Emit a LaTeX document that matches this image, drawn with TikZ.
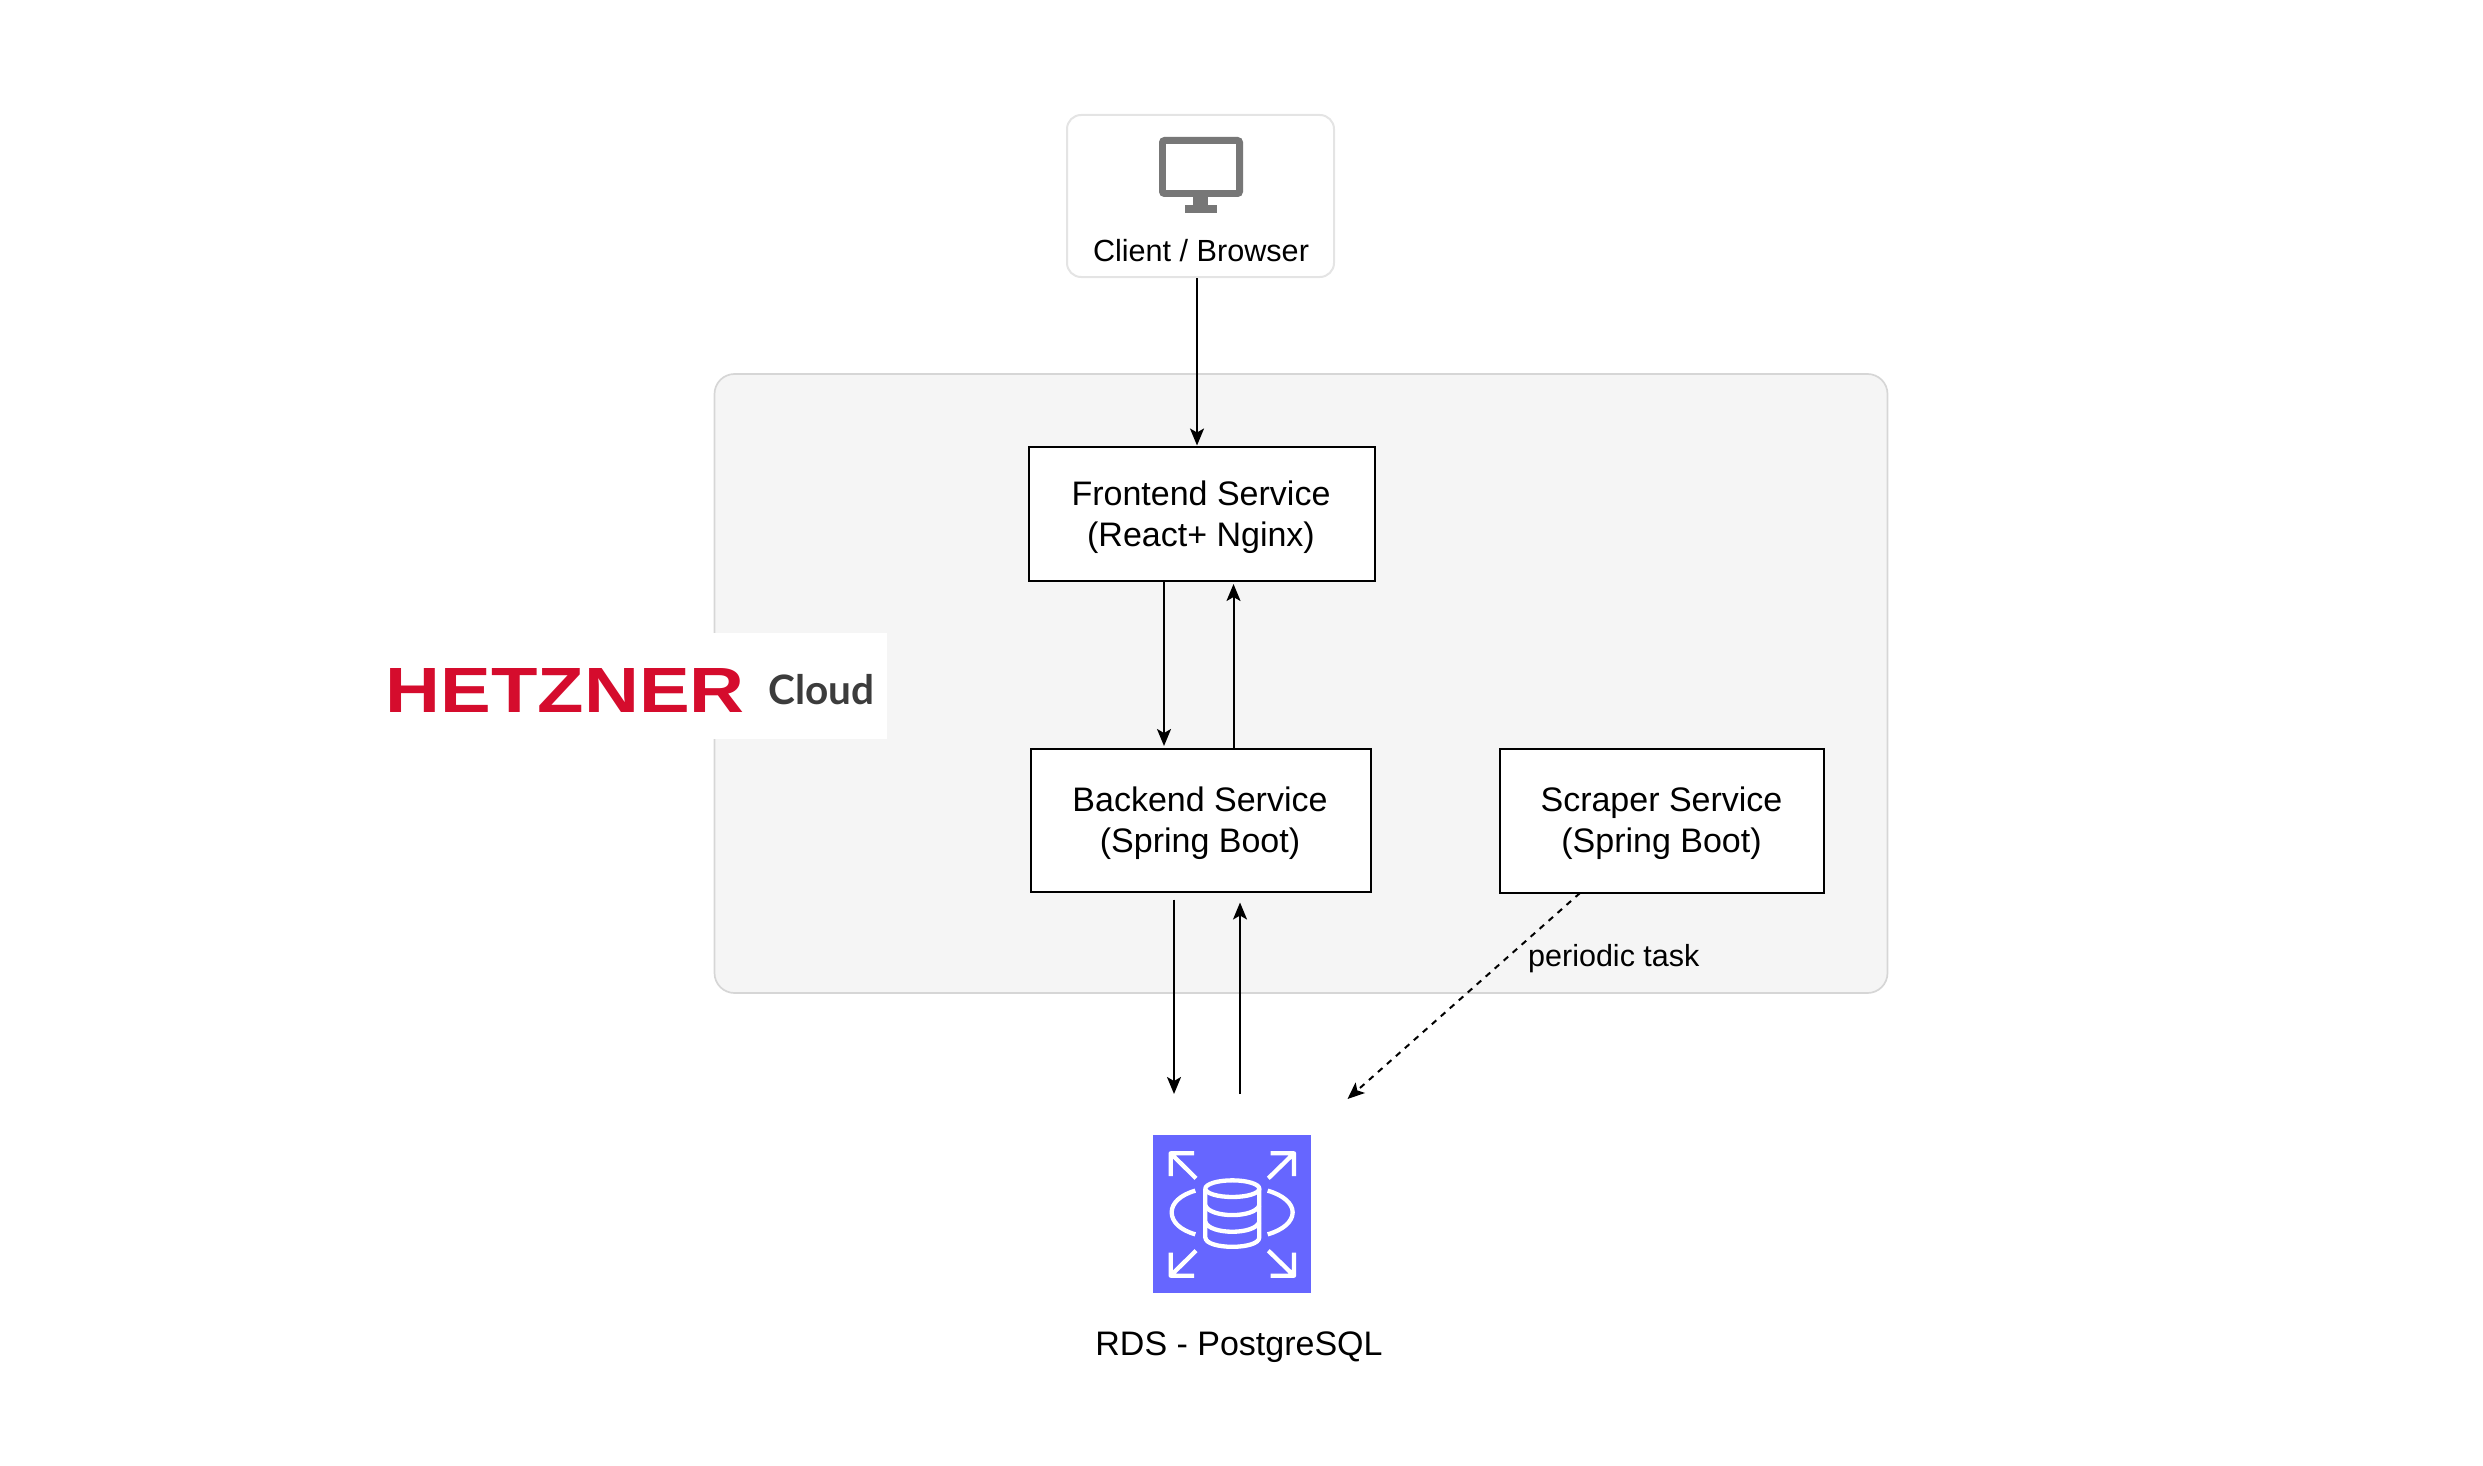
\documentclass[tikz,border=0pt]{standalone}
\usepackage{fontspec}
\setmainfont{Liberation Sans}
\newfontfamily\cloudfont{Lato}
\usetikzlibrary{arrows.meta}
\definecolor{hzred}{HTML}{D50C2D}
\definecolor{cloudgrey}{HTML}{3C3C3C}
\definecolor{panelfill}{HTML}{F5F5F5}
\definecolor{panelline}{HTML}{D6D6D6}
\definecolor{clientline}{HTML}{E4E4E4}
\definecolor{monitorgrey}{HTML}{777777}
\definecolor{rdsblue}{HTML}{6666FF}
\tikzset{
  service/.style={draw=black,line width=2pt,fill=white,inner sep=0pt},
  servicetext/.style={inner sep=0pt,align=center,font=\fontsize{34}{41}\selectfont},
  link/.style={draw=black,line width=2pt,-{Stealth[length=17pt,width=14pt,inset=4pt]}},
  dashlink/.style={link,dash pattern=on 6pt off 6pt},
  caption/.style={inner sep=0pt,anchor=base},
  icon/.style={white,line width=4.3pt,line cap=butt,line join=round},
}
\begin{document}
\begin{tikzpicture}[x=1pt,y=-1pt]
\useasboundingbox (0,0) rectangle (2483,1466);
% panel
\node[draw=panelline,line width=1.7pt,fill=panelfill,rounded corners=20pt,inner sep=0pt,
  minimum width=1173pt,minimum height=619pt] (panel) at (1301,683.5) {};
% logo background
\node[fill=white,inner sep=0pt,minimum width=191.5pt,minimum height=106pt] (logobg) at (790.75,685.7) {};
\node[inner sep=0pt,anchor=north west,text=hzred] (hetzner) at (385.5,668)
  {\resizebox{359pt}{44pt}{\bfseries HETZNER}};
\node[inner sep=0pt,anchor=base west,text=cloudgrey] (cloud) at (768.5,704)
  {\resizebox{106pt}{!}{\cloudfont\bfseries Cloud}};
% client
\node[draw=clientline,line width=2pt,fill=white,rounded corners=14pt,inner sep=0pt,
  minimum width=267pt,minimum height=162pt] (client) at (1200.5,196) {};
\fill[monitorgrey,rounded corners=5pt] (1159,137) rectangle (1243,197);
\fill[white] (1166,144) rectangle (1236,190);
\fill[monitorgrey] (1193,197) rectangle (1208,206);
\fill[monitorgrey] (1185,205) rectangle (1217,213);
\node[caption,font=\fontsize{30.6}{37}\selectfont] (clientlabel) at (1201,261) {Client / Browser};
% services
\node[service,minimum width=345.5pt,minimum height=134.5pt] (front) at (1201.75,513.75) {};
\node[servicetext] (frontlabel) at (1201,517) {Frontend Service\\(React+ Nginx)};
\node[service,minimum width=340pt,minimum height=142.5pt] (back) at (1201,820.25) {};
\node[servicetext] (backlabel) at (1200,823) {Backend Service\\(Spring Boot)};
\node[service,minimum width=324.4pt,minimum height=144pt] (scraper) at (1661.8,821) {};
\node[servicetext] (scraperlabel) at (1661.5,823) {Scraper Service\\(Spring Boot)};
% rds
\node[fill=rdsblue,inner sep=0pt,minimum width=158pt,minimum height=158pt] (rds) at (1232,1214) {};
\begin{scope}[shift={(1130,1120)},x=0.3333pt,y=-0.3333pt]
  \draw[icon] (192,100) -- (122,100) -- (122,168) (122,100) -- (198,175);
  \draw[icon] (422,100) -- (492,100) -- (492,168) (492,100) -- (415,175);
  \draw[icon] (122,398) -- (122,467) -- (192,467) (122,467) -- (198,392);
  \draw[icon] (492,398) -- (492,467) -- (422,467) (492,467) -- (415,392);
  \draw[icon] (196,212) .. controls (150,225) and (125,250) .. (125,277) .. controls (125,305) and (150,330) .. (196,343);
  \draw[icon] (413,212) .. controls (459,225) and (488,250) .. (488,277) .. controls (488,305) and (459,330) .. (413,343);
  \draw[icon] (307,206) ellipse [x radius=81,y radius=25];
  \draw[icon] (226,206) -- (226,352) .. controls (226,390) and (388,390) .. (388,352) -- (388,206);
  \draw[icon] (226,256) .. controls (240,295) and (374,295) .. (388,256);
  \draw[icon] (226,306) .. controls (240,345) and (374,345) .. (388,306);
\end{scope}
\node[caption,font=\fontsize{34}{41}\selectfont] (rdslabel) at (1239,1355.5) {RDS - PostgreSQL};
% free connector ends
\coordinate (downEnd) at (1174,1094);
\coordinate (downStart) at (1174,899.5);
\coordinate (upStart) at (1240,1094);
\coordinate (upEnd) at (1240,902.5);
\coordinate (dashEnd) at (1347.5,1099);
\coordinate (dashStart) at (1580,893);
\coordinate (fbx) at (1164,746);
\coordinate (bfx) at (1233.5,584);
\coordinate (cfx) at (1197,0);
% connectors
\draw[link] (client.south -| cfx) -- (front.north -| cfx);
\draw[link] (front.south -| fbx) -- (fbx);
\draw[link] (back.north -| bfx) -- (bfx);
\draw[link] (downStart) -- (downEnd);
\draw[link] (upStart) -- (upEnd);
\draw[dashlink] (dashStart) -- (dashEnd);
\node[caption,anchor=base west,font=\fontsize{30.5}{36}\selectfont] (periodic) at (1528,966) {periodic task};
\end{tikzpicture}
\end{document}
